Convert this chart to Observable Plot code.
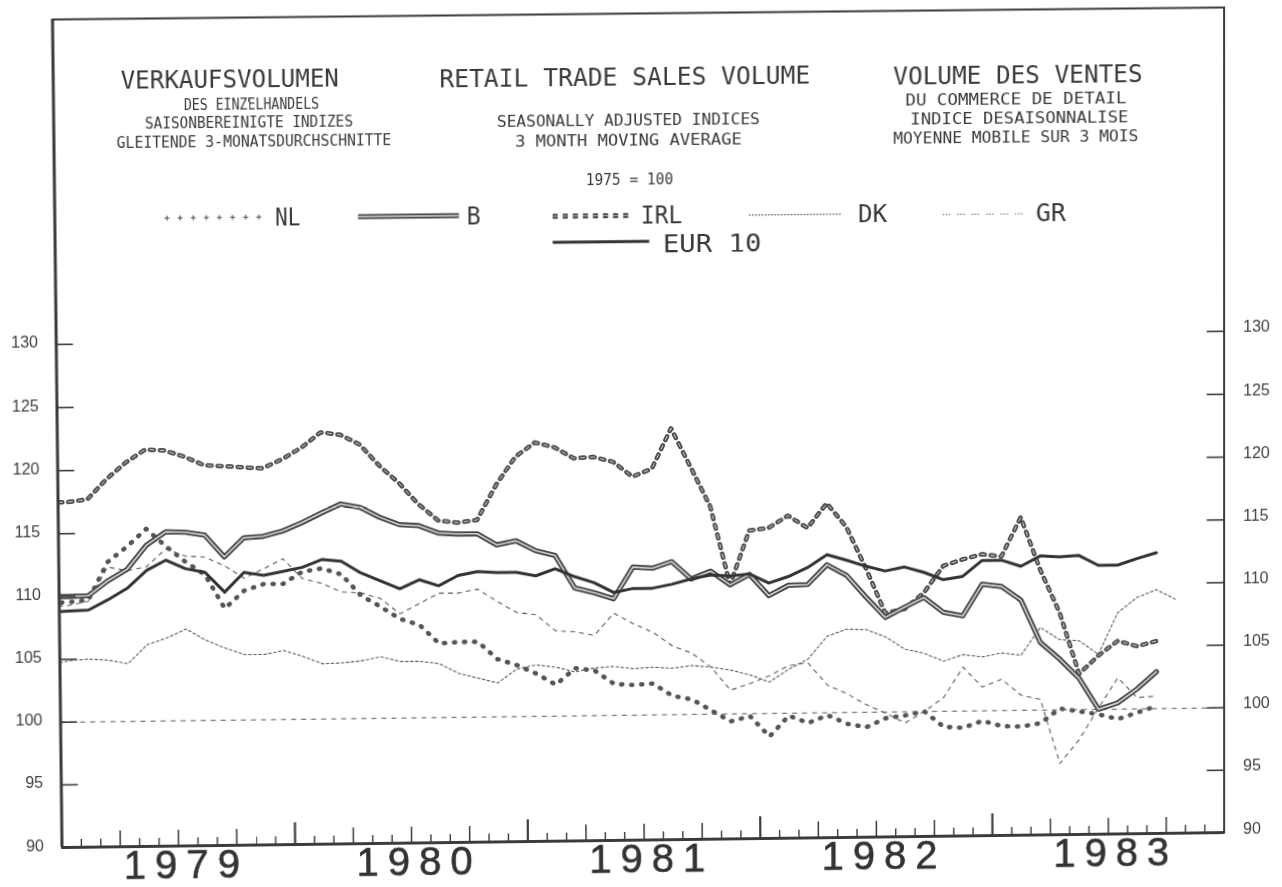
<!DOCTYPE html>
<html>
<head>
<meta charset="utf-8">
<script src="https://cdn.jsdelivr.net/npm/d3@7"></script>
<script src="https://cdn.jsdelivr.net/npm/@observablehq/plot@0.6"></script>
<style>
  html, body { margin: 0; padding: 0; background: #fff; }
  #wrap { position: absolute; left: 0; top: 0; width: 1282px; height: 887px; overflow: visible; transform-origin: 0 0; }
  #wrap svg { position: absolute; left: 0; top: 0; overflow: visible; }
  g[aria-label="x-axis tick label"] text { letter-spacing: 9px; stroke: #333; stroke-width: 0.6px; }
</style>
</head>
<body>
<div id="wrap"></div>
<script>
// Monthly values, 3-month moving averages, 1975 = 100. First value = Dec 1978, then Jan 1979 ...
const NL = [109.5, 109.55, 109.7, 112.7, 113.9, 115.3, 113.9, 112.65, 111.6, 108.9, 110.3, 110.8, 110.8, 111.75, 112.0, 111.5, 109.8, 108.9, 107.9, 107.4, 105.9, 106.0, 106.0, 104.6, 104.1, 103.4, 102.5, 103.8, 103.6, 102.5, 102.4, 102.5, 101.5, 101.2, 100.3, 99.4, 99.8, 98.15, 99.8, 99.2, 99.8, 99.1, 98.8, 99.5, 99.7, 100.0, 98.75, 98.65, 99.2, 98.75, 98.7, 98.95, 100.1, 99.85, 99.6, 99.2, 99.7, 100.2];
const B = [110.0, 110.0, 110.05, 111.2, 112.1, 114.0, 115.05, 115.0, 114.75, 113.0, 114.5, 114.6, 115.0, 115.65, 116.4, 117.1, 116.8, 116.0, 115.4, 115.3, 114.7, 114.6, 114.6, 113.7, 114.0, 113.2, 112.8, 110.2, 109.8, 109.3, 111.8, 111.7, 112.2, 110.8, 111.4, 110.3, 111.1, 109.4, 110.2, 110.25, 111.8, 110.95, 109.2, 107.55, 108.35, 109.1, 107.9, 107.6, 110.1, 109.9, 108.8, 105.4, 104.05, 102.5, 100.0, 100.5, 101.6, 102.95];
const IRL = [117.5, 117.5, 117.7, 119.3, 120.6, 121.6, 121.5, 121.0, 120.3, 120.2, 120.1, 120.0, 120.7, 121.6, 122.8, 122.6, 121.8, 120.1, 118.7, 117.0, 115.7, 115.5, 115.7, 118.5, 120.7, 121.8, 121.4, 120.5, 120.6, 120.2, 119.0, 119.6, 122.8, 119.7, 116.55, 110.3, 114.6, 114.8, 115.75, 114.75, 116.7, 114.8, 111.5, 107.9, 108.2, 109.5, 111.6, 112.1, 112.5, 112.3, 115.4, 111.2, 107.75, 102.85, 104.3, 105.45, 105.0, 105.4];
const DK = [104.6, 104.9, 105.0, 104.9, 104.6, 106.1, 106.6, 107.3, 106.4, 105.75, 105.2, 105.2, 105.5, 105.0, 104.4, 104.45, 104.6, 104.9, 104.5, 104.5, 104.3, 103.5, 103.1, 102.7, 103.8, 104.1, 103.9, 103.5, 103.8, 103.9, 103.7, 103.8, 103.7, 103.9, 103.75, 103.5, 103.1, 102.5, 103.5, 104.3, 106.1, 106.65, 106.6, 106.0, 105.0, 104.65, 104.0, 104.5, 104.3, 104.6, 104.4, 106.6, 105.6, 105.5, 104.4, 107.7, 108.9, 109.5, 108.7];
const GR = [109.2, 109.3, 109.6, 112.3, 112.0, 112.3, 113.7, 113.1, 113.0, 112.3, 111.3, 112.0, 112.8, 111.2, 110.8, 110.1, 110.0, 109.55, 108.3, 109.1, 109.9, 109.9, 110.2, 109.2, 108.3, 108.1, 106.8, 106.7, 106.4, 108.15, 107.3, 106.6, 105.5, 104.9, 103.75, 101.9, 102.4, 103.0, 103.8, 104.0, 102.2, 101.5, 100.6, 99.9, 99.1, 100.0, 101.1, 103.5, 101.9, 102.5, 101.2, 100.85, 95.7, 97.6, 100.1, 102.5, 100.9, 101.0];
const EUR10 = [108.75, 108.85, 108.9, 109.7, 110.6, 112.0, 112.8, 112.1, 111.8, 110.2, 111.75, 111.5, 111.8, 112.1, 112.7, 112.55, 111.6, 110.95, 110.3, 111.0, 110.5, 111.3, 111.6, 111.5, 111.5, 111.2, 111.75, 111.1, 110.6, 109.8, 110.1, 110.1, 110.4, 110.8, 111.1, 111.0, 111.15, 110.4, 110.9, 111.6, 112.6, 112.15, 111.65, 111.25, 111.55, 111.1, 110.5, 110.75, 112.0, 112.0, 111.5, 112.3, 112.2, 112.3, 111.5, 111.5, 112.0, 112.45];

const years = ["1979", "1980", "1981", "1982", "1983"];
const yTicks = [90, 95, 100, 105, 110, 115, 120, 125, 130];
const baseline = 100;

const titleLines = [
  {t: "VERKAUFSVOLUMEN", x: 236.7, y: 88.5, w: 216, fs: 25},
  {t: "DES EINZELHANDELS", x: 257.9, y: 109.6, w: 134, fs: 15},
  {t: "SAISONBEREINIGTE INDIZES", x: 255.3, y: 128, w: 206, fs: 15},
  {t: "GLEITENDE 3-MONATSDURCHSCHNITTE", x: 260.1, y: 146.7, w: 272, fs: 15},
  {t: "RETAIL TRADE SALES VOLUME", x: 628.2, y: 90.4, w: 368, fs: 25},
  {t: "SEASONALLY ADJUSTED INDICES", x: 631.5, y: 130.2, w: 261, fs: 15},
  {t: "3 MONTH MOVING AVERAGE", x: 631.4, y: 150.2, w: 225, fs: 15},
  {t: "1975 = 100", x: 632.2, y: 189.2, w: 87, fs: 15},
  {t: "VOLUME DES VENTES", x: 1018.8, y: 92.5, w: 248, fs: 25},
  {t: "DU COMMERCE DE DETAIL", x: 1016.7, y: 113.5, w: 220, fs: 15},
  {t: "INDICE DESAISONNALISE", x: 1020.1, y: 132.3, w: 217, fs: 15},
  {t: "MOYENNE MOBILE SUR 3 MOIS", x: 1016.6, y: 151.1, w: 244, fs: 15}
];

// ---- layout ----
const W = 1282, H = 887;
const mL = 61.5, mR = 58.5, mT = 18, mB = 40;
const plotW = W - mL - mR, plotH = H - mT - mB;
const pxPerUnit = 12.63;
const ink = "#3b3b3b";

const rows = vals => vals.map((v, i) => ({m: i - 1 + 0.5, v}));
const monthTicks = d3.range(1, 60).filter(m => m % 3 !== 0);
const quarterTicks = d3.range(3, 60, 3).filter(m => m % 12 !== 0);
const yearTicks = d3.range(12, 60, 12);
const yearMid = years.map((y, i) => i * 12 + 6);

const st = {
  NL1: {stroke: "#555", strokeWidth: 1, strokeDasharray: "4.5,5.5"},
  NL2: {stroke: "#555", strokeWidth: 4.6, strokeDasharray: "0.9,9.1", strokeDashoffset: -1.8},
  B1: {stroke: "#454545", strokeWidth: 5.2},
  B2: {stroke: "#d4d4d4", strokeWidth: 1.6},
  IRL1: {stroke: "#484848", strokeWidth: 4.5, strokeDasharray: "4,6"},
  IRL2: {stroke: "#d8d8d8", strokeWidth: 1, strokeDasharray: "4,6"},
  DK: {stroke: "#5a5a5a", strokeWidth: 1.1, strokeDasharray: "2.5,2.5"},
  GR: {stroke: "#5a5a5a", strokeWidth: 1.1, strokeDasharray: "4,5"},
  EUR: {stroke: "#333", strokeWidth: 3}
};
// legend swatches (drawn by the plotter with a slightly different rhythm)
const lg = {
  NL: [{stroke: "#4a4a4a", strokeWidth: 1.1, strokeDasharray: "5,8"},
       {stroke: "#4a4a4a", strokeWidth: 5, strokeDasharray: "1,12", strokeDashoffset: -2}],
  B: [st.B1, st.B2],
  IRL: [{stroke: "#444", strokeWidth: 5, strokeDasharray: "5,5"}, {stroke: "#bbb", strokeWidth: 1, strokeDasharray: "5,5"}],
  DK: [{stroke: "#555", strokeWidth: 1.1, strokeDasharray: "1.6,1.6"}],
  GR: [{stroke: "#555", strokeWidth: 1.1, strokeDasharray: "1.4,1.6,1.4,1.6,1.4,7"}],
  EUR: [st.EUR]
};

const L = (vals, s) => Plot.line(rows(vals), {x: "m", y: "v", clip: true, strokeLinejoin: "round", ...s});

const chart = Plot.plot({
  width: W, height: H,
  marginLeft: mL, marginRight: mR, marginTop: mT, marginBottom: mB,
  x: {domain: [0, 60], label: null},
  y: {domain: [90, 90 + plotH / pxPerUnit], label: null},
  style: {background: "transparent", color: "#404040", fontFamily: "'Liberation Sans', Arial, sans-serif"},
  marks: [
    Plot.ruleY([baseline], {stroke: "#555", strokeWidth: 1.1, strokeDasharray: "5,5"}),
    L(DK, st.DK),
    L(GR, st.GR),
    L(NL, st.NL1),
    L(NL, st.NL2),
    L(IRL, st.IRL1),
    L(IRL, st.IRL2),
    L(B, st.B1),
    L(B, st.B2),
    L(EUR10, st.EUR),
    Plot.frame({stroke: ink, strokeWidth: 2}),
    Plot.ruleX([0], {stroke: ink, strokeWidth: 3}),
    Plot.ruleY([90], {stroke: ink, strokeWidth: 3}),
    Plot.tickY(yTicks, {y: d => d, stroke: ink, strokeWidth: 1.6, insetRight: plotW - 17}),
    Plot.tickY(yTicks, {y: d => d, stroke: ink, strokeWidth: 1.6, insetLeft: plotW - 17}),
    Plot.tickX(monthTicks, {x: d => d, stroke: ink, strokeWidth: 1.4, insetTop: plotH - 8}),
    Plot.tickX(quarterTicks, {x: d => d, stroke: ink, strokeWidth: 1.5, insetTop: plotH - 16}),
    Plot.tickX(yearTicks, {x: d => d, stroke: ink, strokeWidth: 2.2, insetTop: plotH - 22}),
    Plot.axisY(yTicks, {anchor: "left", tickSize: 0, tickPadding: 18, fontSize: 16, dy: -2}),
    Plot.axisY(yTicks, {anchor: "right", tickSize: 0, tickPadding: 19, fontSize: 16, dy: -4}),
    Plot.axisX(yearMid, {anchor: "bottom", tickSize: 0, tickPadding: 4, fontSize: 40, dx: 7.5, fill: "#333",
      tickFormat: d => years[(d - 6) / 12]})
  ]
});
const wrap = document.getElementById("wrap");
wrap.appendChild(chart);

// ---- titles and legend (overlay) ----
const ov = d3.select("#wrap").append("svg").attr("width", W).attr("height", H)
  .style("pointer-events", "none");
const tfont = "'DejaVu Sans Mono', monospace";
ov.selectAll("text.title").data(titleLines).join("text")
  .attr("class", "title")
  .attr("x", d => d.x).attr("y", d => d.y)
  .attr("text-anchor", "middle")
  .attr("textLength", d => d.w).attr("lengthAdjust", "spacingAndGlyphs")
  .attr("font-family", tfont).attr("font-size", d => d.fs)
  .attr("fill", "#3a3a3a")
  .text(d => d.t);

const legendItems = [
  {name: "NL", sw: [170.6, 267.6, 217.2], tx: 280.2, tw: 25, ty: 226.2, styles: lg.NL},
  {name: "B", sw: [362.6, 462.6, 218], tx: 470.3, tw: 14, ty: 227.5, styles: lg.B},
  {name: "IRL", sw: [555.7, 633.7, 219.7], tx: 643.3, tw: 41, ty: 228.2, styles: lg.IRL},
  {name: "DK", sw: [750.7, 842.7, 220.6], tx: 859.2, tw: 29, ty: 229, styles: lg.DK},
  {name: "GR", sw: [943.7, 1026.7, 222.2], tx: 1036.3, tw: 30, ty: 230, styles: lg.GR},
  {name: "EUR 10", sw: [555.5, 651.5, 245.7], tx: 665, tw: 98, ty: 256.7, styles: lg.EUR}
];
for (const it of legendItems) {
  for (const s of it.styles) {
    ov.append("line")
      .attr("x1", it.sw[0]).attr("x2", it.sw[1]).attr("y1", it.sw[2]).attr("y2", it.sw[2])
      .attr("stroke", s.stroke).attr("stroke-width", s.strokeWidth)
      .attr("stroke-dasharray", s.strokeDasharray || null)
      .attr("stroke-dashoffset", s.strokeDashoffset || null);
  }
  ov.append("text")
    .attr("x", it.tx).attr("y", it.ty)
    .attr("textLength", it.tw).attr("lengthAdjust", "spacingAndGlyphs")
    .attr("font-family", tfont).attr("font-size", 24)
    .attr("fill", "#3a3a3a")
    .text(it.name);
}

// ---- the scanned sheet is slightly skewed: map the frame corners onto the scan's corners ----
function homography(src, dst) {
  const A = [], b = [];
  for (let k = 0; k < 4; k++) {
    const [x, y] = src[k], [u, v] = dst[k];
    A.push([x, y, 1, 0, 0, 0, -u * x, -u * y]); b.push(u);
    A.push([0, 0, 0, x, y, 1, -v * x, -v * y]); b.push(v);
  }
  const n = 8;
  for (let i = 0; i < n; i++) {
    let p = i;
    for (let r = i + 1; r < n; r++) if (Math.abs(A[r][i]) > Math.abs(A[p][i])) p = r;
    [A[i], A[p]] = [A[p], A[i]]; [b[i], b[p]] = [b[p], b[i]];
    for (let r = 0; r < n; r++) {
      if (r === i) continue;
      const f = A[r][i] / A[i][i];
      for (let c = i; c < n; c++) A[r][c] -= f * A[i][c];
      b[r] -= f * b[i];
    }
  }
  return b.map((v, i) => v / A[i][i]);
}
const srcCorners = [[mL, mT], [W - mR, mT], [W - mR, H - mB], [mL, H - mB]];
const dstCorners = [[52, 19], [1223.5, 7], [1223.5, 832], [61.5, 847]];
const [a, b2, c, d, e, f, g, h] = homography(srcCorners, dstCorners);
wrap.style.transform = `matrix3d(${a},${d},0,${g},${b2},${e},0,${h},0,0,1,0,${c},${f},0,1)`;
</script>
</body>
</html>
